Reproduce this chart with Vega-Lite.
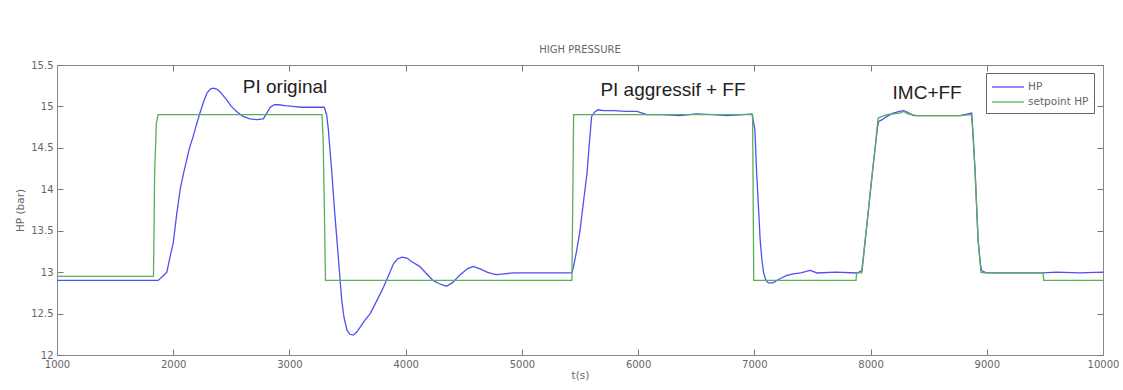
{
  "$schema": "https://vega.github.io/schema/vega-lite/v6.json",
  "autosize": {"type": "none"},
  "padding": {"left": 57, "top": 65, "right": 20, "bottom": 35},
  "width": 1046,
  "height": 290,
  "background": "white",
  "config": {
    "font": "DejaVu Sans",
    "view": {"stroke": "#888", "strokeWidth": 1}
  },
  "title": {"text": "HIGH PRESSURE", "fontSize": 10, "fontWeight": "normal", "color": "#666", "offset": 5, "font": "DejaVu Sans"},
  "datasets": {
    "series": [
      {"t": 1000, "value": 12.9, "series": "HP"},
      {"t": 1870, "value": 12.9, "series": "HP"},
      {"t": 1910, "value": 12.95, "series": "HP"},
      {"t": 1945, "value": 13.0, "series": "HP"},
      {"t": 1975, "value": 13.2, "series": "HP"},
      {"t": 2000, "value": 13.35, "series": "HP"},
      {"t": 2030, "value": 13.7, "series": "HP"},
      {"t": 2060, "value": 14.0, "series": "HP"},
      {"t": 2090, "value": 14.2, "series": "HP"},
      {"t": 2115, "value": 14.35, "series": "HP"},
      {"t": 2140, "value": 14.5, "series": "HP"},
      {"t": 2170, "value": 14.63, "series": "HP"},
      {"t": 2200, "value": 14.78, "series": "HP"},
      {"t": 2230, "value": 14.92, "series": "HP"},
      {"t": 2260, "value": 15.05, "series": "HP"},
      {"t": 2290, "value": 15.16, "series": "HP"},
      {"t": 2320, "value": 15.21, "series": "HP"},
      {"t": 2345, "value": 15.22, "series": "HP"},
      {"t": 2375, "value": 15.21, "series": "HP"},
      {"t": 2400, "value": 15.18, "series": "HP"},
      {"t": 2430, "value": 15.13, "series": "HP"},
      {"t": 2460, "value": 15.08, "series": "HP"},
      {"t": 2500, "value": 15.0, "series": "HP"},
      {"t": 2545, "value": 14.94, "series": "HP"},
      {"t": 2600, "value": 14.88, "series": "HP"},
      {"t": 2660, "value": 14.85, "series": "HP"},
      {"t": 2720, "value": 14.84, "series": "HP"},
      {"t": 2775, "value": 14.85, "series": "HP"},
      {"t": 2805, "value": 14.92, "series": "HP"},
      {"t": 2835, "value": 14.99, "series": "HP"},
      {"t": 2870, "value": 15.02, "series": "HP"},
      {"t": 2910, "value": 15.02, "series": "HP"},
      {"t": 2960, "value": 15.01, "series": "HP"},
      {"t": 3030, "value": 15.0, "series": "HP"},
      {"t": 3100, "value": 14.99, "series": "HP"},
      {"t": 3300, "value": 14.99, "series": "HP"},
      {"t": 3320, "value": 14.9, "series": "HP"},
      {"t": 3335, "value": 14.72, "series": "HP"},
      {"t": 3350, "value": 14.45, "series": "HP"},
      {"t": 3365, "value": 14.2, "series": "HP"},
      {"t": 3380, "value": 13.9, "series": "HP"},
      {"t": 3390, "value": 13.71, "series": "HP"},
      {"t": 3405, "value": 13.45, "series": "HP"},
      {"t": 3420, "value": 13.19, "series": "HP"},
      {"t": 3435, "value": 12.92, "series": "HP"},
      {"t": 3450, "value": 12.66, "series": "HP"},
      {"t": 3470, "value": 12.45, "series": "HP"},
      {"t": 3495, "value": 12.3, "series": "HP"},
      {"t": 3520, "value": 12.25, "series": "HP"},
      {"t": 3550, "value": 12.24, "series": "HP"},
      {"t": 3580, "value": 12.28, "series": "HP"},
      {"t": 3610, "value": 12.34, "series": "HP"},
      {"t": 3650, "value": 12.42, "series": "HP"},
      {"t": 3695, "value": 12.5, "series": "HP"},
      {"t": 3750, "value": 12.65, "series": "HP"},
      {"t": 3810, "value": 12.82, "series": "HP"},
      {"t": 3850, "value": 12.95, "series": "HP"},
      {"t": 3895, "value": 13.1, "series": "HP"},
      {"t": 3930, "value": 13.16, "series": "HP"},
      {"t": 3970, "value": 13.18, "series": "HP"},
      {"t": 4010, "value": 13.17, "series": "HP"},
      {"t": 4060, "value": 13.12, "series": "HP"},
      {"t": 4120, "value": 13.07, "series": "HP"},
      {"t": 4180, "value": 12.98, "series": "HP"},
      {"t": 4235, "value": 12.9, "series": "HP"},
      {"t": 4290, "value": 12.86, "series": "HP"},
      {"t": 4350, "value": 12.83, "series": "HP"},
      {"t": 4400, "value": 12.87, "series": "HP"},
      {"t": 4470, "value": 12.97, "series": "HP"},
      {"t": 4530, "value": 13.04, "series": "HP"},
      {"t": 4580, "value": 13.07, "series": "HP"},
      {"t": 4640, "value": 13.04, "series": "HP"},
      {"t": 4700, "value": 13.0, "series": "HP"},
      {"t": 4750, "value": 12.98, "series": "HP"},
      {"t": 4785, "value": 12.97, "series": "HP"},
      {"t": 4850, "value": 12.98, "series": "HP"},
      {"t": 4925, "value": 12.99, "series": "HP"},
      {"t": 5430, "value": 12.99, "series": "HP"},
      {"t": 5445, "value": 13.07, "series": "HP"},
      {"t": 5470, "value": 13.25, "series": "HP"},
      {"t": 5500, "value": 13.5, "series": "HP"},
      {"t": 5530, "value": 13.85, "series": "HP"},
      {"t": 5560, "value": 14.19, "series": "HP"},
      {"t": 5580, "value": 14.55, "series": "HP"},
      {"t": 5600, "value": 14.88, "series": "HP"},
      {"t": 5625, "value": 14.93, "series": "HP"},
      {"t": 5655, "value": 14.96, "series": "HP"},
      {"t": 5700, "value": 14.95, "series": "HP"},
      {"t": 5785, "value": 14.95, "series": "HP"},
      {"t": 5900, "value": 14.94, "series": "HP"},
      {"t": 5990, "value": 14.94, "series": "HP"},
      {"t": 6075, "value": 14.9, "series": "HP"},
      {"t": 6200, "value": 14.9, "series": "HP"},
      {"t": 6360, "value": 14.89, "series": "HP"},
      {"t": 6500, "value": 14.91, "series": "HP"},
      {"t": 6650, "value": 14.9, "series": "HP"},
      {"t": 6765, "value": 14.89, "series": "HP"},
      {"t": 6900, "value": 14.9, "series": "HP"},
      {"t": 6980, "value": 14.91, "series": "HP"},
      {"t": 7005, "value": 14.72, "series": "HP"},
      {"t": 7020, "value": 14.2, "series": "HP"},
      {"t": 7035, "value": 13.8, "series": "HP"},
      {"t": 7050, "value": 13.39, "series": "HP"},
      {"t": 7065, "value": 13.15, "series": "HP"},
      {"t": 7080, "value": 12.99, "series": "HP"},
      {"t": 7100, "value": 12.9, "series": "HP"},
      {"t": 7120, "value": 12.87, "series": "HP"},
      {"t": 7160, "value": 12.87, "series": "HP"},
      {"t": 7220, "value": 12.92, "series": "HP"},
      {"t": 7280, "value": 12.96, "series": "HP"},
      {"t": 7335, "value": 12.98, "series": "HP"},
      {"t": 7400, "value": 12.99, "series": "HP"},
      {"t": 7480, "value": 13.02, "series": "HP"},
      {"t": 7540, "value": 12.99, "series": "HP"},
      {"t": 7700, "value": 13.0, "series": "HP"},
      {"t": 7885, "value": 12.99, "series": "HP"},
      {"t": 7925, "value": 13.02, "series": "HP"},
      {"t": 7970, "value": 13.59, "series": "HP"},
      {"t": 8015, "value": 14.19, "series": "HP"},
      {"t": 8040, "value": 14.51, "series": "HP"},
      {"t": 8060, "value": 14.75, "series": "HP"},
      {"t": 8070, "value": 14.82, "series": "HP"},
      {"t": 8100, "value": 14.84, "series": "HP"},
      {"t": 8140, "value": 14.88, "series": "HP"},
      {"t": 8195, "value": 14.92, "series": "HP"},
      {"t": 8250, "value": 14.94, "series": "HP"},
      {"t": 8285, "value": 14.95, "series": "HP"},
      {"t": 8320, "value": 14.93, "series": "HP"},
      {"t": 8370, "value": 14.89, "series": "HP"},
      {"t": 8600, "value": 14.89, "series": "HP"},
      {"t": 8770, "value": 14.89, "series": "HP"},
      {"t": 8870, "value": 14.92, "series": "HP"},
      {"t": 8885, "value": 14.6, "series": "HP"},
      {"t": 8900, "value": 14.2, "series": "HP"},
      {"t": 8925, "value": 13.39, "series": "HP"},
      {"t": 8945, "value": 13.1, "series": "HP"},
      {"t": 8955, "value": 13.02, "series": "HP"},
      {"t": 9000, "value": 12.99, "series": "HP"},
      {"t": 9300, "value": 12.99, "series": "HP"},
      {"t": 9485, "value": 12.99, "series": "HP"},
      {"t": 9600, "value": 13.0, "series": "HP"},
      {"t": 9800, "value": 12.99, "series": "HP"},
      {"t": 10000, "value": 13.0, "series": "HP"},
      {"t": 1000, "value": 12.95, "series": "setpoint HP"},
      {"t": 1830, "value": 12.95, "series": "setpoint HP"},
      {"t": 1835, "value": 13.5, "series": "setpoint HP"},
      {"t": 1840, "value": 14.2, "series": "setpoint HP"},
      {"t": 1855, "value": 14.8, "series": "setpoint HP"},
      {"t": 1870, "value": 14.9, "series": "setpoint HP"},
      {"t": 3280, "value": 14.9, "series": "setpoint HP"},
      {"t": 3290, "value": 14.6, "series": "setpoint HP"},
      {"t": 3300, "value": 13.8, "series": "setpoint HP"},
      {"t": 3310, "value": 12.9, "series": "setpoint HP"},
      {"t": 5430, "value": 12.9, "series": "setpoint HP"},
      {"t": 5435, "value": 13.5, "series": "setpoint HP"},
      {"t": 5445, "value": 14.9, "series": "setpoint HP"},
      {"t": 6985, "value": 14.9, "series": "setpoint HP"},
      {"t": 6995, "value": 12.9, "series": "setpoint HP"},
      {"t": 7875, "value": 12.9, "series": "setpoint HP"},
      {"t": 7880, "value": 12.99, "series": "setpoint HP"},
      {"t": 7925, "value": 12.99, "series": "setpoint HP"},
      {"t": 7970, "value": 13.6, "series": "setpoint HP"},
      {"t": 8015, "value": 14.2, "series": "setpoint HP"},
      {"t": 8040, "value": 14.5, "series": "setpoint HP"},
      {"t": 8065, "value": 14.86, "series": "setpoint HP"},
      {"t": 8100, "value": 14.88, "series": "setpoint HP"},
      {"t": 8140, "value": 14.9, "series": "setpoint HP"},
      {"t": 8250, "value": 14.92, "series": "setpoint HP"},
      {"t": 8285, "value": 14.94, "series": "setpoint HP"},
      {"t": 8320, "value": 14.91, "series": "setpoint HP"},
      {"t": 8400, "value": 14.89, "series": "setpoint HP"},
      {"t": 8770, "value": 14.89, "series": "setpoint HP"},
      {"t": 8870, "value": 14.9, "series": "setpoint HP"},
      {"t": 8900, "value": 14.2, "series": "setpoint HP"},
      {"t": 8925, "value": 13.4, "series": "setpoint HP"},
      {"t": 8950, "value": 13.0, "series": "setpoint HP"},
      {"t": 8975, "value": 12.99, "series": "setpoint HP"},
      {"t": 9485, "value": 12.99, "series": "setpoint HP"},
      {"t": 9490, "value": 12.9, "series": "setpoint HP"},
      {"t": 10000, "value": 12.9, "series": "setpoint HP"}
    ],
    "notes": [
      {"t": 2962, "value": 15.23, "label": "PI original"},
      {"t": 6300, "value": 15.2, "label": "PI aggressif + FF"},
      {"t": 8487, "value": 15.16, "label": "IMC+FF"}
    ]
  },
  "layer": [
    {
      "data": {"name": "series"},
      "mark": {"type": "line", "strokeWidth": 1.3, "interpolate": "linear"},
      "encoding": {
        "color": {"field": "series", "type": "nominal",
          "scale": {"domain": ["HP", "setpoint HP"], "range": ["#5050f0", "#5aae5a"]},
          "legend": {"title": null, "orient": "none", "legendX": 929, "legendY": 8, "symbolType": "M-1,0H3", "symbolSize": 256, "symbolStrokeWidth": 1.3, "symbolFillColor": "transparent", "labelFont": "DejaVu Sans", "labelFontSize": 10.5, "labelColor": "#666", "strokeColor": "#666", "fillColor": "white", "padding": 5, "rowPadding": -1, "labelOffset": 19, "symbolOffset": 0}},
        "order": {"field": "series"},
        "x": {"field": "t", "type": "quantitative", "scale": {"domain": [1000, 10000], "nice": false, "zero": false}, "axis": {"title": "t(s)", "titleFont": "DejaVu Sans", "titleFontSize": 10.5, "titleFontWeight": "normal", "titleColor": "#666", "titlePadding": 1, "values": [1000,2000,3000,4000,5000,6000,7000,8000,9000,10000], "format": "d", "grid": false, "tickSize": -6, "domainColor": "#888", "tickColor": "#777", "labelFont": "DejaVu Sans", "labelFontSize": 10, "labelColor": "#666", "labelPadding": 10, "labelFlush": false}},
        "y": {"field": "value", "type": "quantitative", "scale": {"domain": [12, 15.5], "nice": false, "zero": false}, "axis": {"title": "HP (bar)", "titleFont": "DejaVu Sans", "titleFontSize": 10.5, "titleFontWeight": "normal", "titleColor": "#666", "titlePadding": 5, "values": [12,12.5,13,13.5,14,14.5,15,15.5], "format": "~g", "grid": false, "tickSize": -6, "domainColor": "#888", "tickColor": "#777", "labelFont": "DejaVu Sans", "labelFontSize": 10, "labelColor": "#666", "labelPadding": 10, "labelFlush": false}}
      }
    },
    {
      "data": {"name": "series"},
      "mark": {"type": "point", "opacity": 0},
      "encoding": {
        "x": {"field": "t", "type": "quantitative", "axis": {"orient": "top", "title": null, "labels": false, "values": [1000,2000,3000,4000,5000,6000,7000,8000,9000,10000], "grid": false, "tickSize": -6, "domainColor": "#888", "tickColor": "#777"}},
        "y": {"field": "value", "type": "quantitative", "axis": {"orient": "right", "title": null, "labels": false, "values": [12,12.5,13,13.5,14,14.5,15,15.5], "grid": false, "tickSize": -6, "domainColor": "#888", "tickColor": "#777"}}
      }
    },
    {
      "data": {"name": "notes"},
      "mark": {"type": "text", "fontSize": 19, "color": "#222", "font": "Liberation Sans", "align": "center", "baseline": "middle"},
      "encoding": {
        "x": {"field": "t", "type": "quantitative", "axis": null},
        "y": {"field": "value", "type": "quantitative", "axis": null},
        "text": {"field": "label"}
      }
    }
  ],
  "resolve": {"axis": {"x": "independent", "y": "independent"}}
}
